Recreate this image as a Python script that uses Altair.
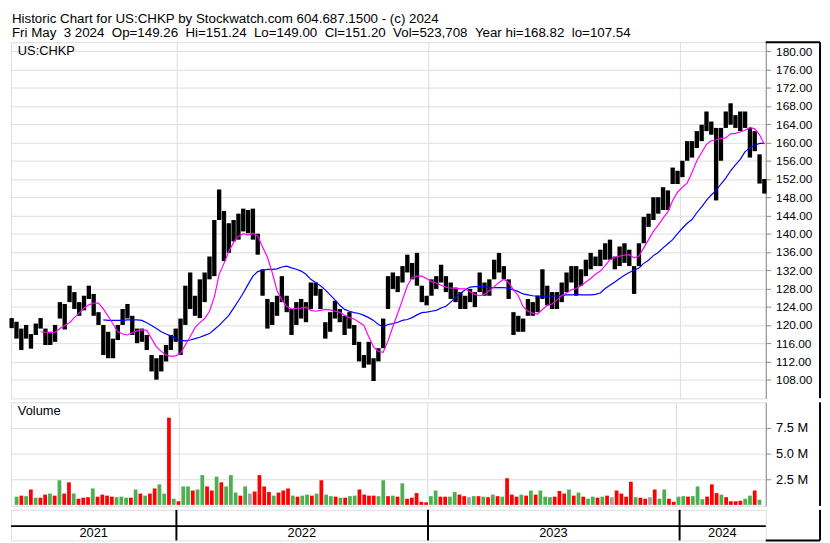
import altair as alt
import pandas as pd

FONT = "Liberation Sans"
GRID = "#c8c8c8"
NB = "\u00a0"

header_line1 = "Historic Chart for US:CHKP by Stockwatch.com 604.687.1500 - (c) 2024"
header_line2 = (f"Fri May{NB}{NB}3 2024{NB}{NB}Op=149.26{NB}{NB}Hi=151.24{NB}{NB}Lo=149.00{NB}{NB}Cl=151.20"
                f"{NB}{NB}Vol=523,708{NB}{NB}Year hi=168.82{NB}{NB}lo=107.54")
symbol_label = "US:CHKP"
volume_label = "Volume"

# weekly sampling of the daily chart (week ending Friday)
week_dates = pd.date_range("2021-05-07", periods=157, freq="7D").strftime("%Y-%m-%d").tolist()

high = [
    121.5, 120.7, 119.2, 120.0, 118.0, 120.3, 121.5, 119.2, 118.5, 120.0,
    125.0, 124.6, 128.6, 127.2, 125.0, 126.4, 128.6, 126.8, 122.8, 120.0,
    118.5, 117.0, 120.0, 123.5, 124.6, 122.0, 119.2, 119.2, 117.8, 113.4,
    112.7, 113.4, 115.6, 117.8, 119.2, 121.4, 128.6, 131.5, 126.4, 130.0,
    131.5, 135.0, 143.0, 149.7, 145.0, 142.3, 143.0, 144.4, 145.5, 145.2,
    145.5, 140.0, 132.2, 125.7, 125.0, 126.4, 130.7, 126.4, 123.5, 125.0,
    125.7, 125.0, 129.3, 129.3, 127.9, 120.6, 122.8, 125.3, 123.5, 122.0,
    122.8, 120.0, 116.3, 113.4, 116.3, 112.7, 114.9, 121.4, 130.7, 131.5,
    130.7, 132.9, 135.4, 133.6, 135.8, 128.6, 126.4, 130.0, 130.7, 133.2,
    130.7, 129.3, 128.2, 127.2, 126.4, 127.9, 127.2, 131.5, 129.3, 130.0,
    134.3, 135.8, 132.9, 130.0, 122.8, 122.0, 121.4, 125.7, 125.0, 126.4,
    132.2, 128.6, 127.2, 127.2, 129.3, 131.5, 132.9, 132.9, 132.2, 134.3,
    135.8, 135.0, 136.5, 137.9, 138.7, 135.0, 137.2, 137.9, 136.5, 132.9,
    137.9, 143.7, 144.4, 148.0, 148.0, 150.2, 149.5, 154.5, 153.8, 156.0,
    160.3, 160.3, 162.5, 163.9, 166.8, 164.6, 163.2, 163.2, 166.8, 168.6,
    166.0, 166.8, 166.8, 163.2, 162.5, 157.4, 152.0,
]
low = [
    119.3, 117.0, 114.5, 117.0, 114.8, 117.8, 119.2, 115.6, 115.6, 116.3,
    121.4, 119.0, 125.0, 123.5, 122.0, 123.2, 125.7, 122.0, 120.0, 113.4,
    112.7, 112.7, 116.7, 120.0, 121.4, 117.8, 116.0, 116.3, 114.5, 109.8,
    108.0, 109.8, 112.0, 114.5, 116.3, 113.4, 120.0, 123.5, 122.0, 121.5,
    125.0, 130.0, 130.7, 143.0, 134.0, 135.8, 138.3, 138.7, 140.5, 140.1,
    138.7, 135.4, 126.4, 119.2, 120.0, 122.0, 125.0, 122.8, 117.8, 120.0,
    121.4, 120.6, 123.5, 126.4, 123.5, 117.0, 118.5, 121.4, 120.6, 117.8,
    119.2, 115.6, 112.0, 110.6, 111.3, 107.7, 112.0, 114.9, 123.5, 127.9,
    127.2, 129.3, 131.5, 130.0, 128.6, 125.0, 124.3, 126.4, 127.9, 129.3,
    127.2, 125.7, 125.0, 123.5, 123.5, 125.0, 123.9, 127.2, 126.4, 126.4,
    130.0, 131.5, 130.0, 125.7, 117.8, 118.5, 118.5, 122.0, 122.0, 122.8,
    125.7, 124.3, 123.5, 123.5, 125.0, 127.2, 129.3, 126.4, 128.6, 130.7,
    132.2, 132.9, 132.9, 134.3, 134.3, 132.2, 132.9, 133.6, 132.9, 126.8,
    132.9, 137.9, 141.5, 143.0, 144.4, 145.2, 145.2, 150.9, 150.9, 152.4,
    156.0, 156.7, 158.8, 160.3, 162.5, 161.7, 147.3, 156.0, 163.2, 163.9,
    163.2, 162.5, 163.2, 156.7, 158.1, 151.0, 148.8,
]
ma50 = [None] * 6 + [
    118.5, 118.4, 118.3, 118.4,
    119.2, 119.9, 120.5, 121.6, 122.6, 123.7, 124.4, 124.8, 124.8, 123.5,
    121.9, 120.2, 118.5, 118.0, 117.8, 118.3, 118.7, 118.9, 118.8, 117.0,
    115.2, 114.2, 113.4, 113.1, 113.2, 113.8, 115.6, 117.4, 119.4, 120.5,
    121.4, 123.0, 126.1, 131.1, 133.5, 136.1, 138.1, 139.4, 140.0, 139.7,
    140.1, 139.5, 137.1, 134.9, 131.5, 127.5, 125.5, 124.1, 123.5, 123.6,
    123.7, 123.9, 123.2, 123.0, 123.2, 123.4, 123.3, 123.0, 122.8, 122.1,
    121.6, 121.3, 120.6, 119.9, 117.4, 115.2, 114.2, 114.0, 116.5, 119.6,
    122.5, 125.5, 128.6, 130.4, 130.7, 130.7, 130.2, 129.5, 129.2, 128.7,
    128.3, 128.1, 128.0, 127.9, 127.9, 127.3, 126.7, 126.4, 126.7, 127.5,
    128.4, 129.3, 130.0, 129.3, 127.7, 126.4, 124.0, 123.0, 122.6, 122.4,
    123.4, 124.3, 124.6, 125.5, 126.4, 127.0, 127.7, 128.0, 128.6, 129.4,
    130.2, 131.1, 131.8, 133.0, 134.3, 134.8, 135.1, 135.3, 135.4, 134.7,
    135.1, 136.9, 138.7, 140.5, 141.9, 143.4, 144.8, 147.3, 149.1, 150.2,
    151.1, 153.4, 156.0, 157.8, 159.6, 160.4, 160.6, 160.9, 161.0, 161.9,
    162.0, 162.3, 162.7, 163.3, 163.0, 161.7, 159.6,
]
ma200 = [None] * 19 + [
    121.1,
    121.0, 121.0, 121.0, 121.0, 121.1, 121.1, 121.1, 121.0, 120.5, 119.9,
    119.2, 118.5, 118.0, 117.6, 117.0, 116.6, 116.5, 116.7, 117.0, 117.3,
    117.7, 118.1, 119.0, 119.9, 121.0, 122.1, 123.7, 125.3, 127.0, 128.9,
    130.7, 131.7, 132.0, 132.2, 132.2, 132.3, 132.7, 132.9, 132.5, 132.2,
    131.8, 131.1, 130.0, 129.3, 128.6, 127.7, 126.6, 125.5, 124.3, 123.4,
    123.0, 122.7, 122.5, 122.1, 121.6, 121.0, 120.1, 119.6, 120.1, 120.3,
    120.6, 121.0, 121.2, 121.6, 122.2, 122.7, 122.8, 123.0, 123.2, 123.7,
    124.1, 125.0, 126.1, 126.9, 127.7, 128.3, 128.4, 128.4, 128.4, 128.2,
    128.2, 128.2, 128.2, 128.0, 127.7, 127.3, 126.8, 126.6, 126.4, 126.3,
    126.3, 126.3, 126.3, 126.4, 126.5, 126.6, 126.6, 126.7, 126.6, 126.6,
    126.6, 126.7, 127.0, 128.0, 128.7, 129.4, 130.2, 130.9, 131.5, 132.0,
    132.5, 133.5, 134.2, 135.2, 135.9, 136.9, 137.8, 138.7, 140.0, 141.2,
    142.3, 143.1, 144.6, 145.9, 147.3, 148.5, 149.5, 150.9, 152.2, 153.8,
    155.1, 156.3, 158.0, 158.8, 159.4, 159.8, 159.8,
]
# volume in millions of shares (peak daily bar of each week)
volume_m = [
    0.8, 0.9, 0.85, 1.5, 0.7, 0.7, 1.0, 1.1, 0.9, 2.4,
    1.1, 2.2, 1.1, 0.6, 0.7, 0.75, 1.6, 0.8, 1.0, 0.9,
    0.8, 0.75, 0.8, 0.7, 0.7, 1.5, 1.1, 0.9, 1.1, 1.6,
    2.0, 1.1, 8.5, 0.6, 0.35, 1.8, 1.8, 1.4, 1.5, 2.9,
    1.8, 1.4, 2.75, 2.2, 1.8, 2.9, 1.2, 0.9, 1.8, 1.1,
    1.3, 2.9, 1.8, 1.25, 0.9, 1.2, 1.4, 1.6, 0.9, 0.8,
    0.9, 1.0, 0.9, 1.1, 2.4, 1.0, 0.85, 0.8, 0.7, 0.7,
    0.85, 0.9, 1.5, 1.0, 0.9, 0.9, 0.85, 2.4, 0.85, 0.9,
    0.8, 2.1, 0.6, 0.7, 1.15, 0.3, 0.25, 0.85, 1.4, 0.8,
    0.8, 0.8, 1.25, 1.0, 0.85, 0.75, 0.85, 0.85, 0.8, 0.75,
    1.0, 0.85, 0.8, 2.6, 1.0, 0.8, 1.0, 0.9, 1.4, 1.0,
    1.4, 0.8, 0.75, 0.8, 1.35, 1.1, 1.5, 0.9, 1.2, 0.8,
    0.6, 0.8, 0.7, 0.8, 0.9, 0.75, 1.4, 1.1, 0.8, 2.25,
    0.75, 0.7, 0.6, 0.75, 1.5, 0.6, 1.5, 0.6, 0.3, 0.8,
    0.85, 0.8, 0.85, 1.8, 0.55, 0.8, 2.0, 1.15, 1.0, 0.75,
    0.35, 0.35, 0.4, 0.6, 0.9, 1.4, 0.5,
]
# g = up day, r = down day, n = unchanged
volume_dir = list(
    "grgrgrrgrg" "rrgrrrgrrr" "rgggrgrgrr" "ggrgrggrgg" "rrgrgggrgn"
    "rrrrgrrrgr" "ggrgrggrgr" "ggrrrrggrg" "rgrrrrrggr" "rggrrngrgr"
    "grgrrrgrgr" "gggrrrgrgr" "ggrgrnrrrr" "grrnrggrrg" "grgggrrrgr"
    "rrrggrg"
)

price_ticks = [108, 112, 116, 120, 124, 128, 132, 136, 140, 144, 148, 152, 156, 160, 164, 168, 172, 176, 180]
volume_ticks = [2.5e6, 5.0e6, 7.5e6]
year_bounds = ["2022-01-01", "2023-01-01", "2024-01-01"]
year_labels = ["2021", "2022", "2023", "2024"]
year_label_dates = ["2021-09-03", "2022-07-02", "2023-07-02", "2024-03-03"]
x_domain = ["2021-05-06", "2024-05-05"]
price_domain = [103.9, 182.0]
volume_domain = [-0.1e6, 10.0e6]

for arr in (high, low, ma50, ma200, volume_m, volume_dir):
    assert len(arr) == len(week_dates), len(arr)

W, HH, HP, HV, HB, AXW = 765, 26, 361, 105, 31, 55


def dt(s):
    y, m, d = map(int, s.split("-"))
    return alt.DateTime(year=y, month=m, date=d, utc=True)


def text_layer(txt, x, y, size, baseline="alphabetic"):
    return alt.Chart(pd.DataFrame({"t": [txt]})).mark_text(
        align="left", baseline=baseline, font=FONT, fontSize=size, color="black").encode(
        x=alt.value(x), y=alt.value(y), text="t:N")


xscale = alt.Scale(type="utc", domain=[dt(x_domain[0]), dt(x_domain[1])])
xaxis = alt.Axis(values=[dt(s) for s in year_bounds], grid=True, labels=False,
                 ticks=False, domain=False, title=None)
X = alt.X("date:T", scale=xscale, axis=xaxis)
one = pd.DataFrame({"k": [0]})

# header
header = alt.layer(
    text_layer(header_line1, 1, 10, 13.5),
    text_layer(header_line2, 1, 24, 13.5),
).properties(width=W, height=HH, view=alt.ViewBackground(stroke="transparent"))

# price panel
prices = pd.DataFrame({"date": week_dates, "high": high, "low": low, "ma50": ma50, "ma200": ma200})
yscale_p = alt.Scale(domain=price_domain, nice=False, zero=False)
yaxis_p = alt.Axis(orient="right", values=price_ticks, format=".2f", grid=True, title=None,
                   labelFontSize=12, labelPadding=5)

bars = alt.Chart(prices).mark_rule(color="black", strokeWidth=4.4).encode(
    x=X, y=alt.Y("low:Q", scale=yscale_p, axis=yaxis_p), y2="high:Q")
line200 = alt.Chart(prices).transform_filter("isValid(datum.ma200)").mark_line(
    color="#0000ff", strokeWidth=1.2).encode(x=X, y=alt.Y("ma200:Q", scale=yscale_p, axis=yaxis_p))
line50 = alt.Chart(prices).transform_filter("isValid(datum.ma50)").mark_line(
    color="#ff00ff", strokeWidth=1.2).encode(x=X, y=alt.Y("ma50:Q", scale=yscale_p, axis=yaxis_p))
p_top = alt.Chart(one).mark_rule(color="black", strokeWidth=2).encode(
    x=alt.value(W), x2=alt.value(W + AXW), y=alt.value(0))
p_right = alt.Chart(one).mark_rule(color="black", strokeWidth=2).encode(
    x=alt.value(W + AXW), y=alt.value(0), y2=alt.value(HP))
price = alt.layer(bars, line200, line50, text_layer(symbol_label, 7, 3, 13, "top"),
                  p_top, p_right).properties(width=W, height=HP)

# volume panel
vols = pd.DataFrame({"date": week_dates, "vol": [v * 1e6 for v in volume_m], "dir": volume_dir})
vbars = alt.Chart(vols).mark_bar(size=3.8).encode(
    x=X,
    y=alt.Y("vol:Q", scale=alt.Scale(domain=volume_domain, nice=False, zero=False),
            axis=alt.Axis(orient="right", values=volume_ticks, grid=True, title=None,
                          labelExpr="format(datum.value / 1000000, '.1f') + ' M'",
                          labelFontSize=13, labelPadding=5)),
    color=alt.Color("dir:N", scale=alt.Scale(domain=["g", "r", "n"],
                                             range=["#4caf50", "#ff0000", "#a0a0a0"]), legend=None),
)
v_right = alt.Chart(one).mark_rule(color="black", strokeWidth=2).encode(
    x=alt.value(W + AXW), y=alt.value(0), y2=alt.value(HV))
volume = alt.layer(vbars, text_layer(volume_label, 7, 3, 13, "top"), v_right).properties(width=W, height=HV)

# year band
XB = alt.X("date:T", scale=xscale, axis=None)
b_bounds = alt.Chart(pd.DataFrame({"date": year_bounds})).mark_rule(color="black", strokeWidth=2).encode(
    x=XB, y=alt.value(0), y2=alt.value(HB))
b_mid = alt.Chart(one).mark_rule(color="black", strokeWidth=2).encode(
    x=alt.value(0), x2=alt.value(W), y=alt.value(16.5))
b_text = alt.Chart(pd.DataFrame({"date": year_label_dates, "label": year_labels})).mark_text(
    font=FONT, fontSize=13, baseline="middle", align="center", color="black").encode(
    x=XB, y=alt.value(24), text="label:N")
b_right = alt.Chart(one).mark_rule(color="black", strokeWidth=2).encode(
    x=alt.value(W + AXW), y=alt.value(0), y2=alt.value(HB))
b_bottom = alt.Chart(one).mark_rule(color="black", strokeWidth=2).encode(
    x=alt.value(W), x2=alt.value(W + AXW), y=alt.value(HB))
band = alt.layer(b_bounds, b_mid, b_text, b_right, b_bottom).properties(width=W, height=HB)

chart = alt.vconcat(header, price, volume, band, spacing=0).properties(
    padding=0,
).configure_view(stroke="black", strokeWidth=2).configure_axis(
    labelFont=FONT, labelColor="black", gridColor=GRID, gridWidth=1, domain=False, ticks=False
).configure(background="white")

chart.save("out.html", embed_options={"renderer": "svg", "actions": False})
